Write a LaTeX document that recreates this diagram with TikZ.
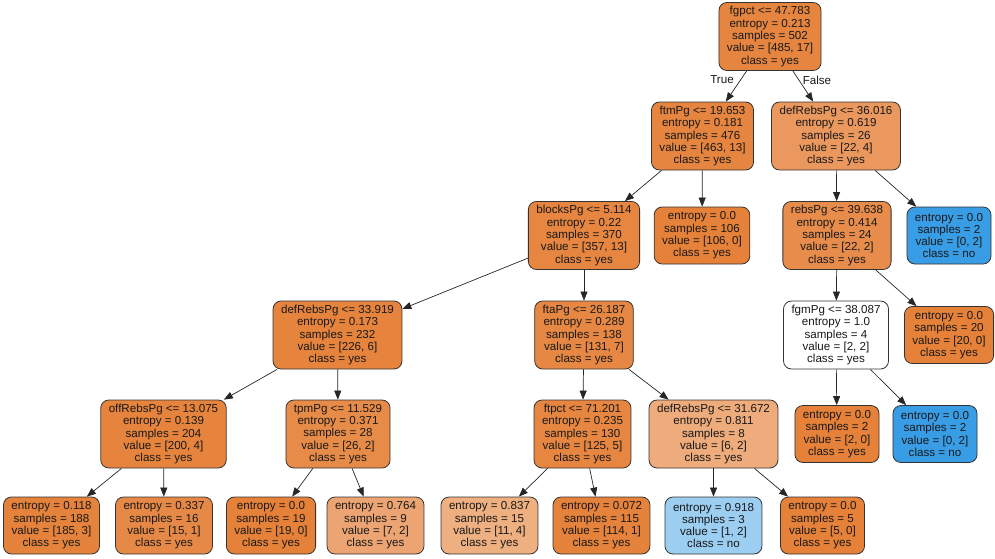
\documentclass[tikz,border=0pt]{standalone}
\usepackage{fontspec}
\setmainfont{Liberation Sans}
\usetikzlibrary{arrows.meta}
\definecolor{orng}{RGB}{229,129,57}
\definecolor{blu}{RGB}{57,157,229}
\begin{document}
\begin{tikzpicture}[x=1pt,y=-1pt,
  tn/.style={draw=black!80, line width=0.8pt, rounded corners=8pt, align=center,
    inner xsep=8pt, inner ysep=2pt, font=\fontsize{11.6}{12.3}\selectfont, text=black!90},
  inode/.style={tn, minimum height=68pt},
  lnode/.style={tn, minimum height=57pt},
  edge/.style={-{Triangle[length=9pt,width=7pt]}, line width=0.7pt, black!85},
  elab/.style={font=\fontsize{11.6}{12.3}\selectfont, text=black!90}
]
\useasboundingbox (0,0) rectangle (995,558);
% level 0
\node[inode, fill=orng!96.5!white] (root) at (770,36.5) {fgpct <= 47.783\\entropy = 0.213\\samples = 502\\value = [485, 17]\\class = yes};
% level 1
\node[inode, fill=orng!97.2!white] (ftm) at (702.5,136) {ftmPg <= 19.653\\entropy = 0.181\\samples = 476\\value = [463, 13]\\class = yes};
\node[inode, fill=orng!81.8!white] (dra) at (836,136) {defRebsPg <= 36.016\\entropy = 0.619\\samples = 26\\value = [22, 4]\\class = yes};
% level 2
\node[inode, fill=orng!96.4!white] (blk) at (584,235.5) {blocksPg <= 5.114\\entropy = 0.22\\samples = 370\\value = [357, 13]\\class = yes};
\node[lnode, fill=orng] (l106) at (702,235.5) {entropy = 0.0\\samples = 106\\value = [106, 0]\\class = yes};
\node[inode, fill=orng!90.9!white] (reb) at (837,235.5) {rebsPg <= 39.638\\entropy = 0.414\\samples = 24\\value = [22, 2]\\class = yes};
\node[lnode, fill=blu] (lno1) at (949,235.5) {entropy = 0.0\\samples = 2\\value = [0, 2]\\class = no};
% level 3
\node[inode, fill=orng!97.3!white] (drb) at (337.5,335) {defRebsPg <= 33.919\\entropy = 0.173\\samples = 232\\value = [226, 6]\\class = yes};
\node[inode, fill=orng!94.7!white] (fta) at (584,335) {ftaPg <= 26.187\\entropy = 0.289\\samples = 138\\value = [131, 7]\\class = yes};
\node[inode, fill=white] (fgm) at (836,335) {fgmPg <= 38.087\\entropy = 1.0\\samples = 4\\value = [2, 2]\\class = yes};
\node[lnode, fill=orng] (l20) at (949,335) {entropy = 0.0\\samples = 20\\value = [20, 0]\\class = yes};
% level 4
\node[inode, fill=orng!98!white] (off) at (163.5,434) {offRebsPg <= 13.075\\entropy = 0.139\\samples = 204\\value = [200, 4]\\class = yes};
\node[inode, fill=orng!92.3!white] (tpm) at (338,434) {tpmPg <= 11.529\\entropy = 0.371\\samples = 28\\value = [26, 2]\\class = yes};
\node[inode, fill=orng!96!white] (ftp) at (582.5,434) {ftpct <= 71.201\\entropy = 0.235\\samples = 130\\value = [125, 5]\\class = yes};
\node[inode, fill=orng!66.7!white] (drc) at (713.5,434) {defRebsPg <= 31.672\\entropy = 0.811\\samples = 8\\value = [6, 2]\\class = yes};
\node[lnode, fill=orng] (l2a) at (837,434) {entropy = 0.0\\samples = 2\\value = [2, 0]\\class = yes};
\node[lnode, fill=blu] (lno2) at (935,434) {entropy = 0.0\\samples = 2\\value = [0, 2]\\class = no};
% level 5
\node[lnode, fill=orng!98.4!white] (l188) at (51.5,525.5) {entropy = 0.118\\samples = 188\\value = [185, 3]\\class = yes};
\node[lnode, fill=orng!93.3!white] (l16) at (164,525.5) {entropy = 0.337\\samples = 16\\value = [15, 1]\\class = yes};
\node[lnode, fill=orng] (l19) at (271,525.5) {entropy = 0.0\\samples = 19\\value = [19, 0]\\class = yes};
\node[lnode, fill=orng!71.4!white] (l9) at (375.5,525.5) {entropy = 0.764\\samples = 9\\value = [7, 2]\\class = yes};
\node[lnode, fill=orng!63.6!white] (l15) at (489.5,525.5) {entropy = 0.837\\samples = 15\\value = [11, 4]\\class = yes};
\node[lnode, fill=orng!99.1!white] (l115) at (601.5,525.5) {entropy = 0.072\\samples = 115\\value = [114, 1]\\class = yes};
\node[lnode, fill=blu!50!white] (l3) at (713.5,525.5) {entropy = 0.918\\samples = 3\\value = [1, 2]\\class = no};
\node[lnode, fill=orng] (l5) at (822.5,525.5) {entropy = 0.0\\samples = 5\\value = [5, 0]\\class = yes};
% edges
\draw[edge] (root) -- (ftm);
\draw[edge] (root) -- (dra);
\node[elab] (tlab) at (722,80) {True};
\node[elab] (flab) at (817,80) {False};
\draw[edge] (ftm) -- (blk);
\draw[edge] (ftm) -- (l106);
\draw[edge] (dra) -- (reb);
\draw[edge] (dra) -- (lno1);
\draw[edge] (blk) -- (drb);
\draw[edge] (blk) -- (fta);
\draw[edge] (reb) -- (fgm);
\draw[edge] (reb) -- (l20);
\draw[edge] (drb) -- (off);
\draw[edge] (drb) -- (tpm);
\draw[edge] (fta) -- (ftp);
\draw[edge] (fta) -- (drc);
\draw[edge] (fgm) -- (l2a);
\draw[edge] (fgm) -- (lno2);
\draw[edge] (off) -- (l188);
\draw[edge] (off) -- (l16);
\draw[edge] (tpm) -- (l19);
\draw[edge] (tpm) -- (l9);
\draw[edge] (ftp) -- (l15);
\draw[edge] (ftp) -- (l115);
\draw[edge] (drc) -- (l3);
\draw[edge] (drc) -- (l5);
\end{tikzpicture}
\end{document}
